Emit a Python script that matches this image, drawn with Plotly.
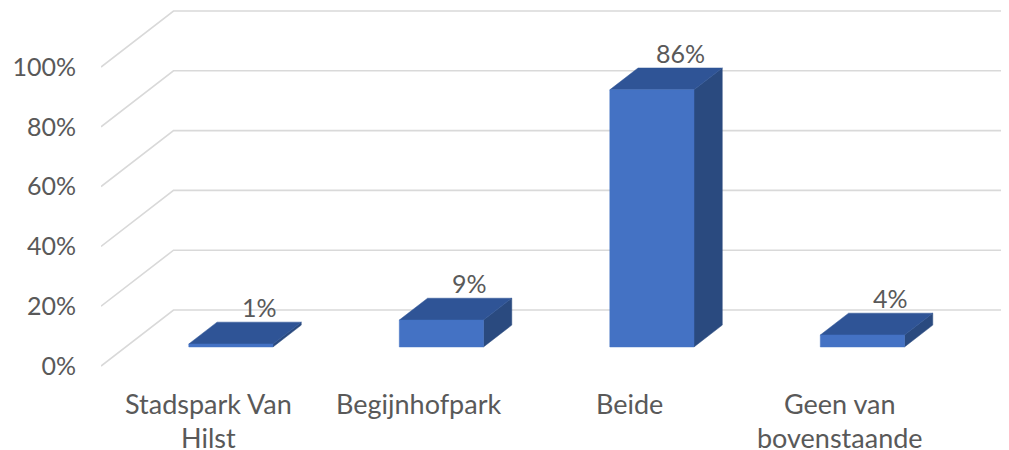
import plotly.graph_objects as go

# ---- data ----
categories = [["Stadspark Van", "Hilst"], ["Begijnhofpark"], ["Beide"], ["Geen van", "bovenstaande"]]
values = [1, 9, 86, 4]
value_labels = ["1%", "9%", "86%", "4%"]
y_ticks = [0, 20, 40, 60, 80, 100]
y_tick_labels = ["0%", "20%", "40%", "60%", "80%", "100%"]

# ---- projection / styling constants ----
OFF = 8                       # page body margin offset
W, H = 1009 - OFF, 450 - OFF
ML, MR, MT, MB = 101 - OFF, 0, 0, 0
XU = 210.5          # px per category
YU = 2.99           # px per percent
DX = 72.5 / XU      # full depth offset in x units
DY = 56 / YU        # full depth offset in y units
F0, F1 = 0.34, 0.73 # bar front/back depth fraction
HW = 0.2            # bar half width (category units)
FRONT, TOP, SIDE = "#4472C4", "#2F5496", "#2A4A7F"
GRID = "#D9D9D9"
TXT = "#595959"
FONT = "Lato, Carlito, Roboto, sans-serif"

x_max = (W - ML - MR) / XU
plot_h = H - MT - MB
y0_px = 366 - OFF - MT           # pixel (in plot) of 0% front
y_hi = y0_px / YU
y_lo = -(plot_h - y0_px) / YU

def page_y_to_data(py):
    return (y0_px - (py - OFF - MT)) / YU

fig = go.Figure()

# gridlines: diagonal on the left side wall + horizontal on back wall
for t in y_ticks:
    fig.add_trace(go.Scatter(
        x=[0, DX, x_max + 1], y=[t, t + DY, t + DY], mode="lines",
        line=dict(color=GRID, width=1.6), hoverinfo="skip", showlegend=False))

# bars
for i, v in enumerate(values):
    c = i + 0.5
    xl0, xr0 = c - HW + F0 * DX, c + HW + F0 * DX
    xl1, xr1 = c - HW + F1 * DX, c + HW + F1 * DX
    yb0, yb1 = F0 * DY, F1 * DY
    # side face
    fig.add_trace(go.Scatter(
        x=[xr0, xr1, xr1, xr0, xr0], y=[yb0, yb1, v + yb1, v + yb0, yb0],
        fill="toself", fillcolor=SIDE, mode="lines", line=dict(color=SIDE, width=0.5),
        hoverinfo="skip", showlegend=False))
    # top face
    fig.add_trace(go.Scatter(
        x=[xl0, xr0, xr1, xl1, xl0], y=[v + yb0, v + yb0, v + yb1, v + yb1, v + yb0],
        fill="toself", fillcolor=TOP, mode="lines", line=dict(color=TOP, width=0.5),
        hoverinfo="skip", showlegend=False))
    # front face
    fig.add_trace(go.Scatter(
        x=[xl0, xr0, xr0, xl0, xl0], y=[yb0, yb0, v + yb0, v + yb0, yb0],
        fill="toself", fillcolor=FRONT, mode="lines", line=dict(color=FRONT, width=0.5),
        hoverinfo="skip", showlegend=False))
    # value label
    fig.add_annotation(
        x=c + F1 * DX, y=v + F1 * DY, text=value_labels[i], showarrow=False,
        xanchor="center", yanchor="middle", yshift=15,
        font=dict(family=FONT, size=25, color=TXT))

# category labels (one annotation per line)
line_page_y = [403, 437]
for i, lines in enumerate(categories):
    for j, line in enumerate(lines):
        fig.add_annotation(
            x=i + 0.51, y=page_y_to_data(line_page_y[j]), text=line, showarrow=False,
            xanchor="center", yanchor="middle",
            font=dict(family=FONT, size=27, color=TXT))

fig.update_layout(
    width=W, height=H,
    margin=dict(l=ML, r=MR, t=MT, b=MB, autoexpand=False),
    paper_bgcolor="white", plot_bgcolor="white",
    showlegend=False,
    xaxis=dict(range=[0, x_max], showticklabels=False, showgrid=False, zeroline=False,
               showline=False, ticks="", automargin=False, fixedrange=True),
    yaxis=dict(range=[y_lo, y_hi], tickvals=y_ticks, ticktext=y_tick_labels,
               showgrid=False, zeroline=False, showline=False, ticks="",
               tickfont=dict(family=FONT, size=25, color=TXT),
               ticklabelstandoff=24, automargin=False, fixedrange=True),
)

fig.write_html("out.html")
